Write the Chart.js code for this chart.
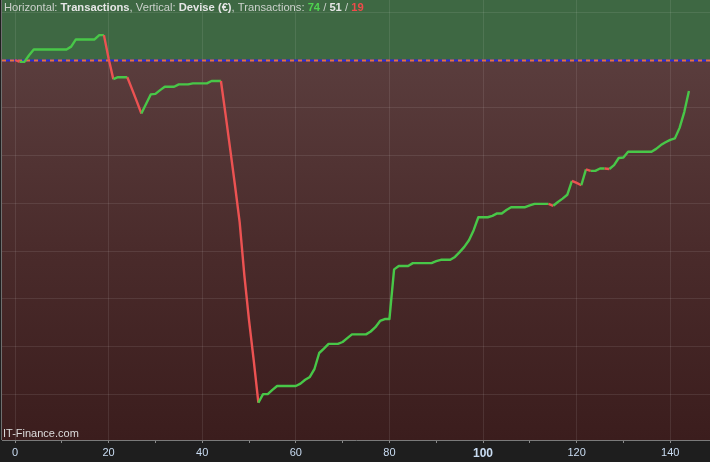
<!DOCTYPE html>
<html>
<head>
<meta charset="utf-8">
<script src="https://cdn.jsdelivr.net/npm/chart.js@4/dist/chart.umd.min.js"></script>
<style>
html,body{margin:0;padding:0;background:#1e1e1e;overflow:hidden;}
#wrap{width:710px;height:462px;position:relative;}
</style>
</head>
<body>
<div id="wrap"><canvas id="c" width="710" height="462"></canvas></div>
<script>
// Equity curve, one value per transaction (Devise €)
const values = [
  0, -4, -4, 10, 22, 22, 22, 22, 22, 22,
  22, 22, 28, 43, 43, 43, 43, 43, 52, 52,
  3, -40, -36, -36, -36, -61, -86, -112, -92, -72,
  -71, -63, -56, -56, -56, -51, -51, -51, -49, -49,
  -49, -49, -44, -44, -44, -115, -188, -262, -339, -450,
  -544, -628, -717, -699, -699, -690, -682, -682, -682, -682,
  -682, -677, -669, -663, -646, -613, -604, -594, -594, -594,
  -590, -582, -574, -574, -574, -574, -568, -559, -546, -542,
  -542, -438, -431, -431, -431, -425, -425, -425, -425, -425,
  -421, -418, -418, -418, -412, -402, -391, -377, -356, -329,
  -329, -329, -326, -321, -321, -314, -308, -308, -308, -308,
  -304, -301, -301, -301, -301, -305, -297, -290, -282, -253,
  -257, -262, -229, -232, -232, -227, -227, -228, -220, -205,
  -204, -192, -192, -192, -192, -192, -192, -186, -178, -172,
  -167, -164, -142, -109, -65
];
const xTickValues = [0, 10, 20, 30, 40, 50, 60, 70, 80, 90, 100, 110, 120, 130, 140];
const xLabelValues = [0, 20, 40, 60, 80, 100, 120, 140];
const yGridValues = [-700, -600, -500, -400, -300, -200, -100, 0, 100];
const headerParts = [
  ['Horizontal: ', false, '#cdd2cd'],
  ['Transactions', true, '#e6e6e6'],
  [', Vertical: ', false, '#cdd2cd'],
  ['Devise (€)', true, '#e6e6e6'],
  [', Transactions: ', false, '#cdd2cd'],
  ['74', true, '#4fd24f'],
  [' / ', false, '#cdd2cd'],
  ['51', true, '#e6e6e6'],
  [' / ', false, '#cdd2cd'],
  ['19', true, '#f04a4a']
];
const watermark = 'IT-Finance.com';

const GREEN = '#48c748';
const RED = '#ec5252';
const FONT = '"Liberation Sans", Arial, sans-serif';

const points = values.map((v, i) => ({x: i, y: v}));

const bgPlugin = {
  id: 'bg',
  beforeDraw(chart) {
    const {ctx, chartArea: a, scales: {y}} = chart;
    const z = y.getPixelForValue(0);
    ctx.save();
    ctx.fillStyle = '#1e1e1e';
    ctx.fillRect(0, 0, chart.width, chart.height);
    ctx.fillStyle = '#3e6843';
    ctx.fillRect(a.left, a.top, a.right - a.left, z - a.top);
    const g = ctx.createLinearGradient(0, z, 0, a.bottom);
    g.addColorStop(0, '#5a3d3d');
    g.addColorStop(0.5, '#4a2b2b');
    g.addColorStop(1, '#3b1d1d');
    ctx.fillStyle = g;
    ctx.fillRect(a.left, z, a.right - a.left, a.bottom - z);
    ctx.restore();
  },
  beforeDatasetsDraw(chart) {
    const {ctx, chartArea: a, scales: {y}} = chart;
    const z = Math.round(y.getPixelForValue(0)) + 0.5;
    ctx.save();
    ctx.lineWidth = 2;
    ctx.strokeStyle = '#2a2ad8';
    ctx.beginPath(); ctx.moveTo(a.left, z); ctx.lineTo(a.right, z); ctx.stroke();
    ctx.strokeStyle = '#e9703f';
    ctx.setLineDash([4, 4]);
    ctx.beginPath(); ctx.moveTo(a.left, z); ctx.lineTo(a.right, z); ctx.stroke();
    ctx.restore();
  },
  afterDraw(chart) {
    const {ctx, chartArea: a} = chart;
    ctx.save();
    ctx.strokeStyle = '#707070';
    ctx.lineWidth = 1;
    ctx.beginPath(); ctx.moveTo(a.left - 0.5, 0); ctx.lineTo(a.left - 0.5, a.bottom); ctx.stroke();
    ctx.textBaseline = 'alphabetic';
    let x = 4;
    for (const [t, b, c] of headerParts) {
      ctx.font = (b ? 'bold ' : '') + '11.2px ' + FONT;
      ctx.fillStyle = c;
      ctx.fillText(t, x, 10.5);
      x += ctx.measureText(t).width;
    }
    ctx.font = '11px ' + FONT;
    ctx.fillStyle = '#dcdcdc';
    ctx.fillText(watermark, 3, 437);
    ctx.restore();
  }
};

new Chart(document.getElementById('c'), {
  type: 'line',
  data: {
    datasets: [{
      data: points,
      borderWidth: 2.4,
      pointRadius: 0,
      tension: 0,
      borderColor: GREEN,
      borderJoinStyle: 'round',
      segment: {
        borderColor: c => c.p1.parsed.y < c.p0.parsed.y ? RED : GREEN
      }
    }]
  },
  options: {
    responsive: false,
    animation: false,
    devicePixelRatio: 1,
    layout: {padding: {left: 2, right: 0, top: 0, bottom: 0}},
    plugins: {legend: {display: false}, tooltip: {enabled: false}},
    scales: {
      x: {
        type: 'linear',
        min: -2.78,
        max: 148.5,
        afterBuildTicks: s => { s.ticks = xTickValues.map(v => ({value: v})); },
        afterFit: s => { s.height = 22; },
        border: {display: true, color: '#7a7a7a', width: 1},
        grid: {
          color: c => (c.tick && xLabelValues.includes(c.tick.value)) ? 'rgba(255,255,255,0.09)' : 'rgba(0,0,0,0)',
          tickColor: '#8a8a8a',
          tickLength: 3,
          drawTicks: true
        },
        ticks: {
          autoSkip: false,
          maxRotation: 0,
          padding: 3,
          color: '#c9dcf2',
          font: c => (c.tick && c.tick.value === 100) ? {family: FONT, size: 12, weight: 'bold'} : {family: FONT, size: 11},
          callback: v => xLabelValues.includes(v) ? String(v) : ''
        }
      },
      y: {
        type: 'linear',
        min: -795,
        max: 125.5,
        afterBuildTicks: s => { s.ticks = yGridValues.map(v => ({value: v})); },
        afterFit: s => { s.width = 0; },
        border: {display: false},
        grid: {
          color: c => (c.tick && c.tick.value === 0) ? 'rgba(0,0,0,0)' : 'rgba(255,255,255,0.09)',
          drawTicks: false
        },
        ticks: {display: false}
      }
    }
  },
  plugins: [bgPlugin]
});
</script>
</body>
</html>
